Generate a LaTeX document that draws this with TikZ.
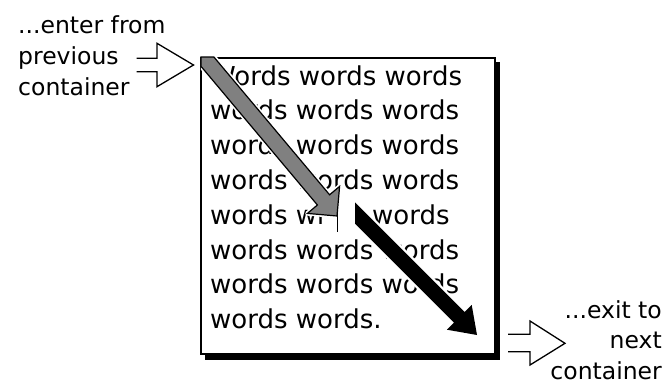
\documentclass[tikz,border=0pt]{standalone}
\usepackage{fontspec}
\setmainfont{DejaVu Sans}
\begin{document}
\begin{tikzpicture}[x=1pt,y=-1pt,
  words/.style={anchor=base west, inner sep=0pt, font=\fontsize{26}{26}\selectfont},
  lab/.style={inner sep=0pt, font=\fontsize{23.5}{23.5}\selectfont},
  hollow/.style={draw=black, line width=1.3pt, line join=miter},
  halo/.style={draw=white, line width=4.5pt, line join=round},
  grayarrow/.style={fill=black!50, draw=black, line width=1.2pt, line join=miter},
  blackarrow/.style={fill=black}]
\useasboundingbox (0,0) rectangle (665,384);
% box with drop shadow
\fill[black] (205,62) rectangle (499.5,360);
\node[draw=black, fill=white, line width=1.5pt, inner sep=0pt,
      minimum width=294pt, minimum height=296pt, anchor=north west] (box) at (200,57) {};
% text rows
\node[words] (r1) at (210,85) {Words words words};
\node[words] (r2) at (210,119.8) {words words words};
\node[words] (r3) at (210,154.6) {words words words};
\node[words] (r4) at (210,189.4) {words words words};
\node[words] (r5a) at (210,224.2) {words wr};
\node[words] (r5b) at (372,224.2) {words};
\node[words] (r6) at (210,259) {words words words};
\node[words] (r7) at (210,293.8) {words words words};
\node[words] (r8) at (210,328.6) {words words.};
% halos that erase text around the arrows
\begin{scope}
  \clip (200.75,57.75) rectangle (493.25,352.25);
  \draw[halo] (201,57) -- (213.9,57) -- (329.6,194.8) -- (339.6,186.4) -- (337,216)
     -- (307.4,213.4) -- (317.4,205.0) -- (201,66.3) -- cycle;
  \draw[halo] (355,202.4) -- (464.6,312.0) -- (471.7,304.9) -- (477,335)
     -- (446.9,329.7) -- (454.0,322.6) -- (355,223.6) -- cycle;
\end{scope}
% text cursor
\draw[line width=1pt] (337,206) -- (337,232);
% gray arrow (enter path)
\draw[grayarrow] (201,57) -- (213.9,57) -- (329.6,194.8) -- (339.6,186.4) -- (337,216)
   -- (307.4,213.4) -- (317.4,205.0) -- (201,66.3) -- cycle;
% black arrow (exit path)
\fill[blackarrow] (355,202.4) -- (464.6,312.0) -- (471.7,304.9) -- (477,335)
   -- (446.9,329.7) -- (454.0,322.6) -- (355,223.6) -- cycle;
% left hollow arrow
\draw[hollow] (136.5,58.3) -- (157,58.3) -- (157,43.3) -- (193.5,65) -- (157,86.7)
   -- (157,71.7) -- (136.5,71.7);
% right hollow arrow
\draw[hollow] (508,334.3) -- (530,334.3) -- (530,321) -- (565,343.3) -- (530,365)
   -- (530,351.7) -- (508,351.7);
% labels
\node[lab, anchor=base west] (l1) at (18,33) {...enter from};
\node[lab, anchor=base west] (l2) at (18,64) {previous};
\node[lab, anchor=base west] (l3) at (18,95) {container};
\node[lab, anchor=base east] (e1) at (662,318) {...exit to};
\node[lab, anchor=base east] (e2) at (662,348) {next};
\node[lab, anchor=base east] (e3) at (662,379) {container};
\end{tikzpicture}
\end{document}
